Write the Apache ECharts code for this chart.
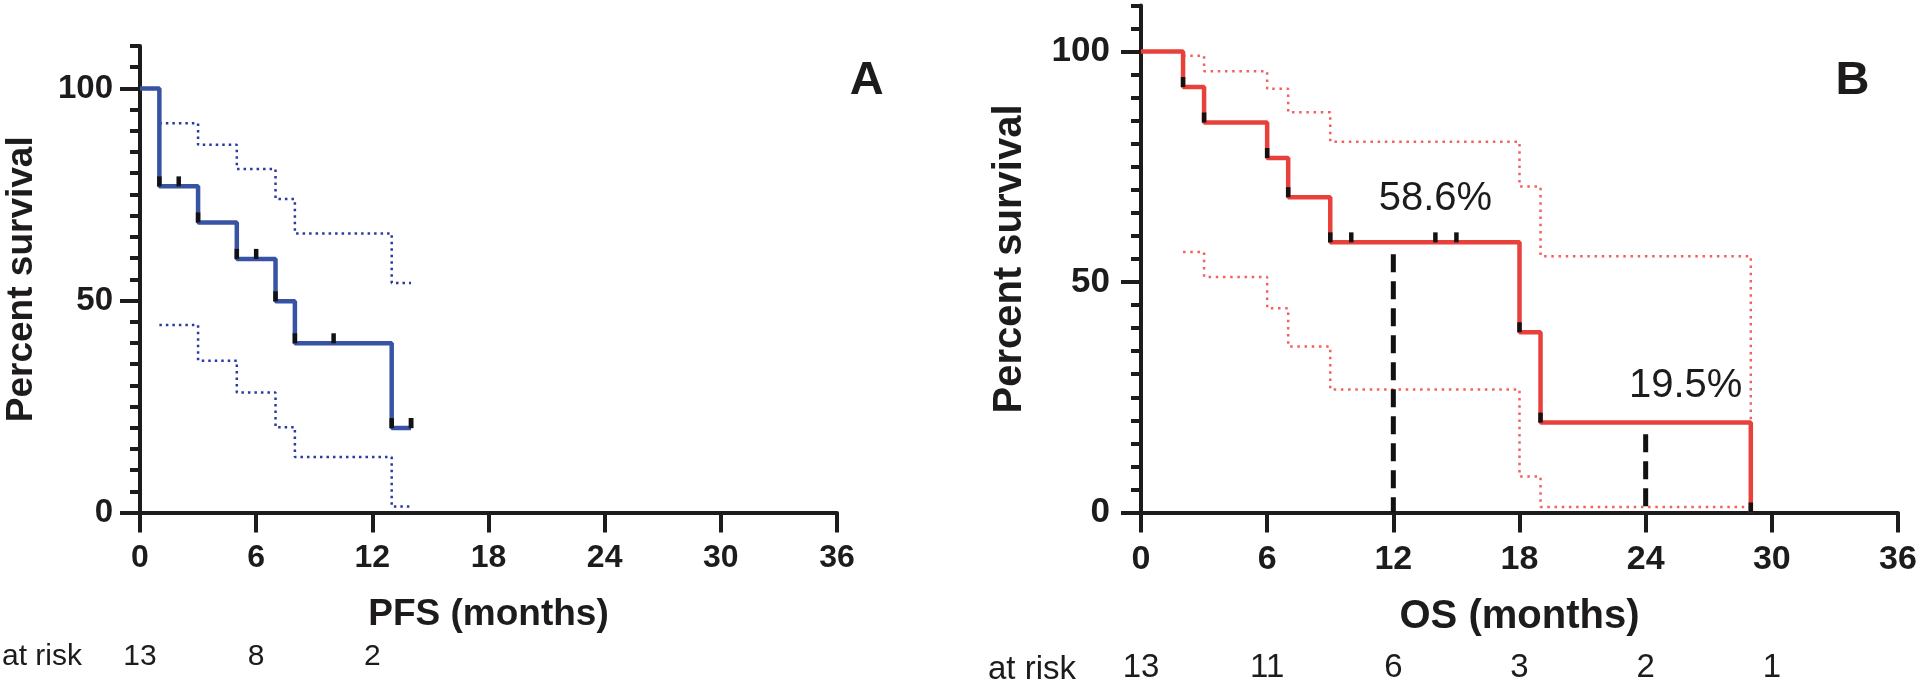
<!DOCTYPE html>
<html><head><meta charset="utf-8">
<script src="https://cdn.jsdelivr.net/npm/echarts@6/dist/echarts.min.js"></script>
<style>html,body{margin:0;padding:0;background:#fff}#c{width:1920px;height:682px}</style>
</head><body><div id="c"></div>
<script>
// ---------- data ----------
const xTickValues = [0, 6, 12, 18, 24, 30, 36];
const yLabelValues = [0, 50, 100];
// Panel A – PFS
const pfsTimes = [0, 1, 3, 5, 7, 8, 13, 14];
const pfsSurv = [100, 76.9, 68.4, 59.8, 49.8, 39.9, 19.9, 19.9];
const pfsCensorTimes = [2, 6, 10, 14];
const pfsCensorSurv = [76.9, 59.8, 39.9, 19.9];
const pfsCiTimes = [1, 3, 5, 7, 8, 13, 14];
const pfsCiUpper = [91.8, 86.7, 81.0, 73.9, 65.8, 54.1, 54.1];
const pfsCiLower = [44.2, 35.8, 28.3, 20.1, 13.1, 1.4, 1.4];
const pfsRiskTimes = [0, 6, 12];
const pfsRiskCounts = [13, 8, 2];
// Panel B – OS
const osTimes = [0, 2, 3, 6, 7, 9, 18, 19, 29];
const osSurv = [100, 92.3, 84.6, 76.9, 68.4, 58.6, 39.1, 19.5, 0];
const osCensorTimes = [10, 14, 15];
const osCensorSurv = [58.6, 58.6, 58.6];
const osCiTimes = [2, 3, 6, 7, 9, 18, 19, 29];
const osCiUpper = [99.1, 95.7, 91.9, 86.8, 80.4, 70.7, 55.6, 19.5];
const osCiLower = [56.5, 51.1, 44.3, 36.0, 26.7, 7.8, 1.2, 1.2];
const osRiskTimes = [0, 6, 12, 18, 24, 30];
const osRiskCounts = [13, 11, 6, 3, 2, 1];
const osLandmarkTimes = [12, 24];
const osLandmarkTop = [56, 17];
const osAnnoTexts = ['58.6%', '19.5%'];
const osAnnoTimes = [14, 25.9];
const osAnnoSurv = [68, 27.5];

// ---------- helpers ----------
const FONT = "'Liberation Sans', Arial, Helvetica, sans-serif";
const INK = '#1d1b1c';
const zip = (a, b) => a.map((v, i) => [v, b[i]]);
const markPts = (t, s, ct, cs) => zip(t.slice(1), s.slice(1)).concat(zip(ct, cs));

function mainX(grid, fs, name, nfs) {
  return {
    gridIndex: grid, type: 'value', min: 0, max: 36, interval: 6,
    axisLine: { show: true, lineStyle: { color: INK, width: 4 } },
    axisTick: { show: true, length: 20, lineStyle: { color: INK, width: 4 } },
    axisLabel: { color: INK, fontFamily: FONT, fontWeight: 'bold', fontSize: fs, margin: 30 },
    splitLine: { show: false },
    name: name, nameLocation: 'middle', nameGap: 84,
    nameTextStyle: { color: INK, fontFamily: FONT, fontWeight: 'bold', fontSize: nfs }
  };
}
function mainY(grid, fs, margin, nfs, gap) {
  return {
    gridIndex: grid, type: 'value', position: 'left', min: 0, max: 110, interval: 5,
    axisLine: { show: true, lineStyle: { color: INK, width: 4 } },
    axisTick: { show: true, length: 10, lineStyle: { color: INK, width: 4 } },
    axisLabel: { color: INK, fontFamily: FONT, fontWeight: 'bold', fontSize: fs, margin: margin,
      formatter: v => (yLabelValues.indexOf(v) >= 0 ? String(v) : '') },
    splitLine: { show: false },
    name: 'Percent survival', nameLocation: 'middle', nameGap: gap, nameRotate: 90,
    nameTextStyle: { color: INK, fontFamily: FONT, fontWeight: 'bold', fontSize: nfs }
  };
}
function majorY(grid) {
  return {
    gridIndex: grid, type: 'value', position: 'left', offset: 0, min: 0, max: 110, interval: 50,
    axisLine: { show: false },
    axisTick: { show: true, length: 20, customValues: yLabelValues, lineStyle: { color: INK, width: 4 } },
    axisLabel: { show: false }, splitLine: { show: false }
  };
}
function hiddenX(grid) { return { gridIndex: grid, type: 'value', min: 0, max: 36, show: false }; }
function hiddenY(grid) { return { gridIndex: grid, type: 'value', min: 0, max: 1, show: false }; }

function stepLine(xi, yi, data, color, width, type, z) {
  return { type: 'line', xAxisIndex: xi, yAxisIndex: yi, data: data, step: 'end', symbol: 'none',
    lineStyle: { color: color, width: width, type: type, cap: 'butt' }, z: z, silent: true };
}
function marks(xi, yi, data) {
  return { type: 'scatter', xAxisIndex: xi, yAxisIndex: yi, data: data, symbol: 'rect',
    symbolSize: [4.5, 10], symbolOffset: [0, -5], itemStyle: { color: '#121212', opacity: 1 }, z: 5, silent: true };
}
function riskRow(xi, yi, times, counts, fs) {
  return { type: 'scatter', xAxisIndex: xi, yAxisIndex: yi, symbolSize: 0, itemStyle: { opacity: 1 },
    data: times.map((t, i) => ({ value: [t, 0.5], label: { formatter: String(counts[i]) } })),
    label: { show: true, position: 'inside', color: INK, opacity: 1, fontFamily: FONT, fontSize: fs }, silent: true };
}

const BLUE = '#3953a4', BLUE_DOT = '#2a3ba0', RED = '#e8413c', RED_DOT = '#f06262';

const option = {
  animation: false,
  backgroundColor: '#ffffff',
  grid: [
    { left: 140, top: 46, width: 697, height: 466.5 },
    { left: 1141, top: 5.4, width: 757, height: 507.1 },
    { left: 140, top: 640, width: 697, height: 34 },
    { left: 1141, top: 653, width: 757, height: 34 }
  ],
  xAxis: [
    mainX(0, 32, 'PFS (months)', 37),
    mainX(1, 34, 'OS (months)', 40),
    hiddenX(2), hiddenX(3)
  ],
  yAxis: [
    mainY(0, 33, 27, 37, 100), majorY(0),
    mainY(1, 35, 31, 40, 111), majorY(1),
    hiddenY(2), hiddenY(3)
  ],
  graphic: [
    { type: 'text', x: 2, y: 657, style: { text: 'at risk', fontSize: 30, fontFamily: FONT, fill: INK, textAlign: 'left', textVerticalAlign: 'middle', align: 'left', verticalAlign: 'middle' } },
    { type: 'text', x: 988, y: 670, style: { text: 'at risk', fontSize: 33, fontFamily: FONT, fill: INK, textAlign: 'left', textVerticalAlign: 'middle', align: 'left', verticalAlign: 'middle' } },
    { type: 'text', x: 866.7, y: 81, style: { text: 'A', fontSize: 47, fontWeight: 'bold', fontFamily: FONT, fill: INK, textAlign: 'center', textVerticalAlign: 'middle', align: 'center', verticalAlign: 'middle' } },
    { type: 'text', x: 1852.5, y: 81, style: { text: 'B', fontSize: 47, fontWeight: 'bold', fontFamily: FONT, fill: INK, textAlign: 'center', textVerticalAlign: 'middle', align: 'center', verticalAlign: 'middle' } }
  ],
  series: [
    // Panel A
    stepLine(0, 0, zip(pfsCiTimes, pfsCiUpper), BLUE_DOT, 2.5, [2.5, 4], 2),
    stepLine(0, 0, zip(pfsCiTimes, pfsCiLower), BLUE_DOT, 2.5, [2.5, 4], 2),
    stepLine(0, 0, zip(pfsTimes, pfsSurv), BLUE, 4.5, 'solid', 3),
    marks(0, 0, markPts(pfsTimes, pfsSurv, pfsCensorTimes, pfsCensorSurv)),
    riskRow(2, 4, pfsRiskTimes, pfsRiskCounts, 30),
    // Panel B
    stepLine(1, 2, zip(osCiTimes, osCiUpper), RED_DOT, 2.5, [2.5, 4.7], 2),
    stepLine(1, 2, zip(osCiTimes, osCiLower), RED_DOT, 2.5, [2.5, 4.7], 2),
    ...osLandmarkTimes.map((t, i) => ({
      type: 'line', xAxisIndex: 1, yAxisIndex: 2, symbol: 'none', silent: true, z: 4,
      data: [[t, osLandmarkTop[i]], [t, 0]],
      lineStyle: { color: '#111', width: 5, type: [18, 9], cap: 'butt' }
    })),
    stepLine(1, 2, zip(osTimes, osSurv), RED, 4.5, 'solid', 3),
    marks(1, 2, markPts(osTimes, osSurv, osCensorTimes, osCensorSurv)),
    { type: 'scatter', xAxisIndex: 1, yAxisIndex: 2, symbolSize: 0, silent: true, z: 6, itemStyle: { opacity: 1 },
      data: osAnnoTimes.map((t, i) => ({ value: [t, osAnnoSurv[i]], label: { formatter: osAnnoTexts[i] } })),
      label: { show: true, position: 'inside', color: INK, opacity: 1, fontFamily: FONT, fontSize: 40 } },
    riskRow(3, 5, osRiskTimes, osRiskCounts, 33)
  ]
};
const chart = echarts.init(document.getElementById('c'), null, { renderer: 'canvas' });
chart.setOption(option);
</script></body></html>
